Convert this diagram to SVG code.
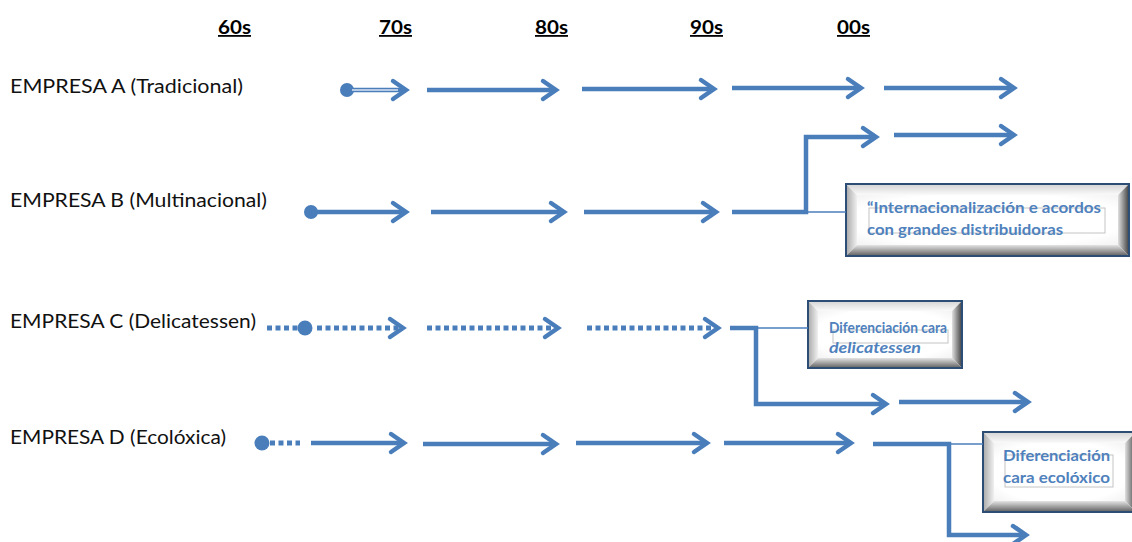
<svg xmlns="http://www.w3.org/2000/svg" width="1132" height="542" viewBox="0 0 1132 542">
<style>
.hdr{font-family:Lato,"Liberation Sans",sans-serif;font-weight:bold;font-size:18px;fill:#000;text-decoration:underline}
.lbl{font-family:Lato,"Liberation Sans",sans-serif;font-size:19.5px;fill:#111}
.bx{font-family:Lato,"Liberation Sans",sans-serif;font-weight:bold;font-size:15px;fill:#4f81bd}
.bxs{font-size:14.5px}
.ln{fill:none;stroke:#4a7ebb;stroke-width:4.5}
.dot{fill:none;stroke:#4a7ebb;stroke-width:5;stroke-dasharray:5 3.5}
.thin{fill:none;stroke:#4a7ebb;stroke-width:1.6}
.pt{fill:#4a7ebb}
.ar{marker-end:url(#ah)}
.frame{fill:none;stroke:#2c4d75;stroke-width:2}
.tb{fill:none;stroke:#c4c4c4;stroke-width:1}
.face{fill:url(#gface)}
</style>
<defs>
<marker id="ah" markerUnits="userSpaceOnUse" markerWidth="30" markerHeight="30" viewBox="-20 -15 30 30" refX="0" refY="0" orient="auto" overflow="visible">
<path d="M-13,-9 L0,0 L-13,9" fill="none" stroke="#4a7ebb" stroke-width="4.5" stroke-linecap="round" stroke-linejoin="miter"/>
</marker>
<linearGradient id="gtop" x1="0" y1="0" x2="0" y2="1"><stop offset="0" stop-color="#d4d4d4"/><stop offset="1" stop-color="#fafafa"/></linearGradient>
<linearGradient id="gleft" x1="0" y1="0" x2="1" y2="0"><stop offset="0" stop-color="#a8a8a8"/><stop offset="1" stop-color="#f0f0f0"/></linearGradient>
<linearGradient id="gright" x1="0" y1="0" x2="1" y2="0"><stop offset="0" stop-color="#e0e0e0"/><stop offset="1" stop-color="#404040"/></linearGradient>
<linearGradient id="gbot" x1="0" y1="0" x2="0" y2="1"><stop offset="0" stop-color="#e4e4e4"/><stop offset="1" stop-color="#5e5e5e"/></linearGradient>
<radialGradient id="gface" cx="0.5" cy="0.5" r="0.75"><stop offset="0.7" stop-color="#ffffff"/><stop offset="1" stop-color="#f0f0f0"/></radialGradient>
</defs>

<g id="headers">
<text class="hdr" x="218" y="34" textLength="33" lengthAdjust="spacingAndGlyphs">60s</text>
<text class="hdr" x="379" y="34" textLength="33" lengthAdjust="spacingAndGlyphs">70s</text>
<text class="hdr" x="535" y="34" textLength="33" lengthAdjust="spacingAndGlyphs">80s</text>
<text class="hdr" x="690" y="34" textLength="33" lengthAdjust="spacingAndGlyphs">90s</text>
<text class="hdr" x="837" y="34" textLength="33" lengthAdjust="spacingAndGlyphs">00s</text>
</g>

<g id="label-a"><text class="lbl" x="10" y="93" textLength="233" lengthAdjust="spacingAndGlyphs">EMPRESA A (Tradicional)</text></g>
<g id="label-b"><text class="lbl" x="10" y="207" textLength="257" lengthAdjust="spacingAndGlyphs">EMPRESA B (Multinacional)</text></g>
<g id="label-c"><text class="lbl" x="10" y="328" textLength="246" lengthAdjust="spacingAndGlyphs">EMPRESA C (Delicatessen)</text></g>
<g id="label-d"><text class="lbl" x="10" y="444" textLength="216" lengthAdjust="spacingAndGlyphs">EMPRESA D (Ecolóxica)</text></g>

<g id="box-b">
<polygon fill="url(#gtop)" points="846,184 1129,184 1118,195 857,195"/>
<polygon fill="url(#gleft)" points="846,184 857,195 857,245 846,256"/>
<polygon fill="url(#gright)" points="1118,195 1129,184 1129,256 1118,245"/>
<polygon fill="url(#gbot)" points="857,245 1118,245 1129,256 846,256"/>
<rect class="face" x="857" y="195" width="261" height="50"/>
<rect class="frame" x="846" y="184" width="283" height="72"/>
<rect class="tb" x="869" y="208" width="236" height="25"/>
<text class="bx" x="867" y="213" textLength="234" lengthAdjust="spacingAndGlyphs">“Internacionalización e acordos</text>
<text class="bx" x="867" y="235" textLength="196" lengthAdjust="spacingAndGlyphs">con grandes distribuidoras</text>
</g>

<g id="box-c">
<polygon fill="url(#gtop)" points="808,301 962,301 952,311 818,311"/>
<polygon fill="url(#gleft)" points="808,301 818,311 818,358 808,368"/>
<polygon fill="url(#gright)" points="952,311 962,301 962,368 952,358"/>
<polygon fill="url(#gbot)" points="818,358 952,358 962,368 808,368"/>
<rect class="face" x="818" y="311" width="134" height="47"/>
<rect class="frame" x="808" y="301" width="154" height="67"/>
<rect class="tb" x="833" y="330" width="115" height="13"/>
<text class="bx bxs" x="829" y="333" textLength="118" lengthAdjust="spacingAndGlyphs">Diferenciación cara</text>
<text class="bx bxs" x="829" y="353" textLength="92" lengthAdjust="spacingAndGlyphs" font-style="italic">delicatessen</text>
</g>

<g id="box-d">
<polygon fill="url(#gtop)" points="983,432 1136,432 1125,443 994,443"/>
<polygon fill="url(#gleft)" points="983,432 994,443 994,501 983,512"/>
<polygon fill="url(#gright)" points="1125,443 1136,432 1136,512 1125,501"/>
<polygon fill="url(#gbot)" points="994,501 1125,501 1136,512 983,512"/>
<rect class="face" x="994" y="443" width="131" height="58"/>
<rect class="frame" x="983" y="432" width="153" height="80"/>
<rect class="tb" x="1005" y="455" width="108" height="32"/>
<text class="bx" x="1003" y="461" textLength="107" lengthAdjust="spacingAndGlyphs">Diferenciación</text>
<text class="bx" x="1003" y="483" textLength="107" lengthAdjust="spacingAndGlyphs">cara ecolóxico</text>
</g>

<g id="connectors">
<circle class="pt" cx="347" cy="90" r="7"/>
<path class="ln ar" d="M347,90 H406"/>
<path d="M352,90 H398" stroke="#dce6f2" stroke-width="1.5"/>
<path class="ln ar" d="M427,90 H556"/>
<path class="ln ar" d="M582,89 H714"/>
<path class="ln ar" d="M732,88 H861"/>
<path class="ln ar" d="M884,88 H1014"/>
<circle class="pt" cx="311" cy="212" r="7"/>
<path class="ln ar" d="M311,212 H406"/>
<path class="ln ar" d="M431,212 H564"/>
<path class="ln ar" d="M584,212 H716"/>
<path class="ln ar" d="M732,212 H806 V137 H876"/>
<path class="ln ar" d="M894,135 H1014"/>
<path class="thin" d="M806,212 H846"/>
<path class="dot" d="M267,328 H298"/>
<circle class="pt" cx="305" cy="328" r="7.5"/>
<path class="dot ar" d="M317,328 H403"/>
<path class="dot ar" d="M427,328 H558"/>
<path class="dot ar" d="M587,328 H718"/>
<path class="ln ar" d="M730,328 H756 V404 H886"/>
<path class="thin" d="M756,328 H808"/>
<path class="ln ar" d="M899,402 H1028"/>
<circle class="pt" cx="262" cy="443" r="7.5"/>
<path class="dot" d="M270,443 H300"/>
<path class="ln ar" d="M311,443 H404"/>
<path class="ln ar" d="M423,444 H556"/>
<path class="ln ar" d="M576,443 H707"/>
<path class="ln ar" d="M724,443 H851"/>
<path class="ln ar" d="M873,444 H949 V535 H1026"/>
<path class="thin" d="M949,444 H983"/>
</g>
</svg>
